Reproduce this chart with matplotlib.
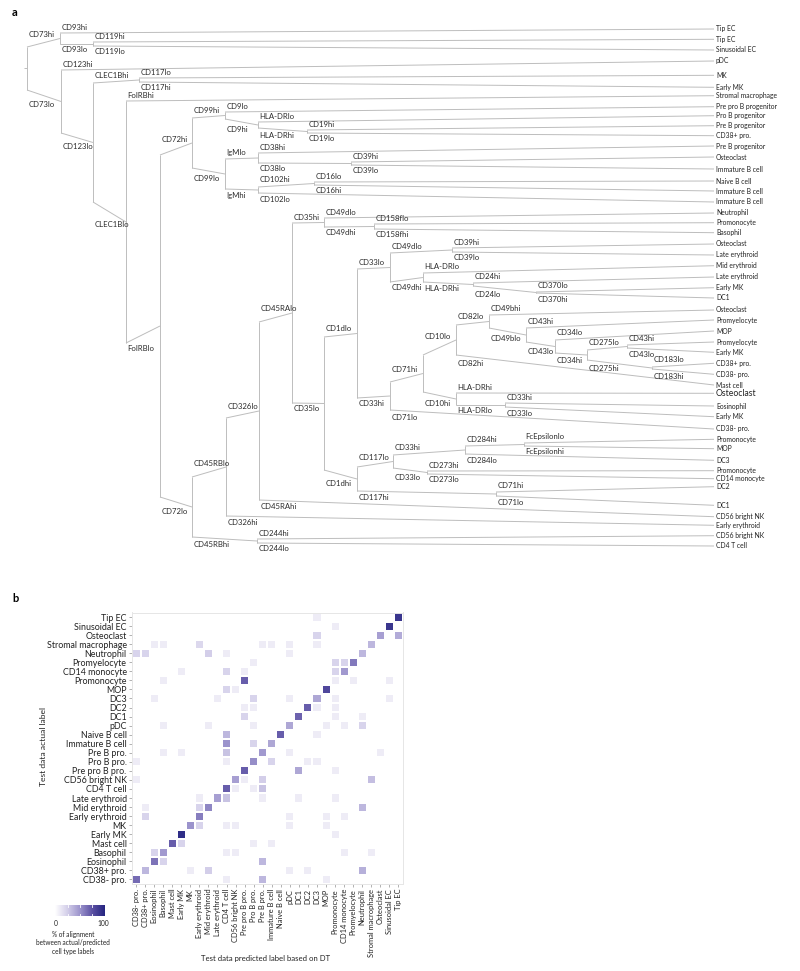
import numpy as np
import matplotlib
matplotlib.use("Agg")
import matplotlib.pyplot as plt
from matplotlib.colors import LinearSegmentedColormap

plt.rcParams['font.family'] = ['Lato', 'DejaVu Sans']

W, H = 800, 971

# ---------------- panel a : decision tree ----------------
leaf_names = ['Tip EC', 'Tip EC', 'Sinusoidal EC', 'pDC', 'MK', 'Early MK', 'Stromal macrophage',
              'Pre pro B progenitor', 'Pro B progenitor', 'Pre B progenitor', 'CD38+ pro.',
              'Pre B progenitor', 'Osteoclast', 'Immature B cell', 'Naive B cell', 'Immature B cell',
              'Immature B cell', 'Neutrophil', 'Promonocyte', 'Basophil', 'Osteoclast',
              'Late erythroid', 'Mid erythroid', 'Late erythroid', 'Early MK', 'DC1', 'Osteoclast',
              'Promyelocyte', 'MOP', 'Promyelocyte', 'Early MK', 'CD38+ pro.', 'CD38- pro.',
              'Mast cell', 'Osteoclast', 'Eosinophil', 'Early MK', 'CD38- pro.', 'Promonocyte',
              'MOP', 'DC3', 'Promonocyte', 'CD14 monocyte', 'DC2', 'DC1', 'CD56 bright NK',
              'Early erythroid', 'CD56 bright NK', 'CD4 T cell']
leaf_y = [29, 39.3, 50, 61, 75.3, 87.3, 95.7, 106.7, 115.7, 125.7, 135.7, 146, 157, 169, 181,
          191, 202, 213, 222.7, 232.7, 244, 255, 265.7, 277, 287.7, 298, 310, 320, 331, 342,
          352.3, 363.3, 374.3, 385, 393.3, 406, 416.7, 429, 439.3, 448.7, 460.3, 470.7, 478.7,
          486.7, 505.3, 516.7, 525.3, 535.7, 546]
big_leaf = [35]

node_key = ['CD73', 'CD93', 'CD119', 'CD123', 'CLEC1B', 'CD117a', 'FolRB', 'CD72', 'CD99', 'CD9',
            'HLA-DRa', 'CD19', 'IgM', 'CD38', 'CD39a', 'CD102', 'CD16', 'CD45RB', 'CD326', 'CD45RA',
            'CD244', 'CD35', 'CD49da', 'CD158f', 'CD1d', 'CD33a', 'CD49db', 'CD39b', 'HLA-DRb',
            'CD24', 'CD370', 'CD71a', 'CD10', 'CD82', 'CD49b', 'CD43a', 'CD34', 'CD275', 'CD43b',
            'CD183', 'HLA-DRc', 'CD33b', 'CD117b', 'CD33c', 'CD284', 'FcEpsilon', 'CD273', 'CD71b']
node_marker = ['CD73', 'CD93', 'CD119', 'CD123', 'CLEC1B', 'CD117', 'FolRB', 'CD72', 'CD99', 'CD9',
               'HLA-DR', 'CD19', 'IgM', 'CD38', 'CD39', 'CD102', 'CD16', 'CD45RB', 'CD326', 'CD45RA',
               'CD244', 'CD35', 'CD49d', 'CD158f', 'CD1d', 'CD33', 'CD49d', 'CD39', 'HLA-DR',
               'CD24', 'CD370', 'CD71', 'CD10', 'CD82', 'CD49b', 'CD43', 'CD34', 'CD275', 'CD43',
               'CD183', 'HLA-DR', 'CD33', 'CD117', 'CD33', 'CD284', 'FcEpsilon', 'CD273', 'CD71']
node_x = [27, 60, 93, 61, 93, 139, 126, 160, 192, 225, 258, 307, 225, 258, 351, 258, 314, 192,
          226, 259, 257, 292, 324, 374, 324, 357, 390, 452, 423, 473, 536, 390, 423, 456, 489,
          526, 555, 587, 627, 652, 456, 505, 357, 393, 465, 524, 427, 496]
# vertical extent of each split bar (top, bottom)
node_y0 = [47, 33, 42, 70, 83, 78, 101, 155, 118, 112, 122, 130, 159, 153, 162, 187, 182, 477,
           418, 322, 539, 223, 218, 224, 337, 269, 253, 248, 273, 283, 292, 382, 355, 325, 315,
           328, 340, 350, 345, 367, 393, 403, 467, 455, 446, 443, 471, 492]
node_y1 = [90, 44, 46, 133, 202, 82, 343, 497, 168, 119, 128, 133, 189, 163, 165, 193, 185, 537,
           516, 500, 543, 403, 227, 229, 470, 398, 282, 252, 282, 286, 293, 410, 392, 355, 328,
           342, 353, 360, 348, 369, 405, 407, 491, 468, 454, 446, 474, 496]
node_top = ['CD93', 'L1', 'L2', 'L4', 'CD117a', 'L5', 'L7', 'CD99', 'CD9', 'L8', 'L9', 'L10',
            'CD38', 'L12', 'L13', 'CD16', 'L15', 'CD326', 'CD45RA', 'CD35', 'L48', 'CD49da', 'L18',
            'L19', 'CD33a', 'CD49db', 'CD39b', 'L21', 'L23', 'L24', 'L25', 'CD10', 'CD82', 'CD49b',
            'L27', 'L28', 'L29', 'CD43b', 'L30', 'L32', 'L35', 'L36', 'CD33c', 'CD284',
            'FcEpsilon', 'L39', 'L42', 'L44']
node_bottom = ['CD123', 'CD119', 'L3', 'CLEC1B', 'FolRB', 'L6', 'CD72', 'CD45RB', 'IgM', 'HLA-DRa',
               'CD19', 'L11', 'CD102', 'CD39a', 'L14', 'L17', 'L16', 'CD244', 'L47', 'L46', 'L49',
               'CD1d', 'CD158f', 'L20', 'CD117b', 'CD71a', 'HLA-DRb', 'L22', 'CD24', 'CD370',
               'L26', 'L38', 'HLA-DRc', 'L34', 'CD43a', 'CD34', 'CD275', 'CD183', 'L31', 'L33',
               'CD33b', 'L37', 'CD71b', 'CD273', 'L41', 'L40', 'L43', 'L45']
node_top_level = ['hi', 'hi', 'hi', 'hi', 'hi', 'lo', 'hi', 'hi', 'hi', 'lo', 'lo', 'hi', 'lo',
                  'hi', 'hi', 'hi', 'lo', 'lo', 'lo', 'lo', 'hi', 'hi', 'lo', 'lo', 'lo', 'lo',
                  'lo', 'hi', 'lo', 'hi', 'lo', 'hi', 'lo', 'lo', 'hi', 'hi', 'lo', 'lo', 'hi',
                  'lo', 'hi', 'hi', 'lo', 'hi', 'hi', 'lo', 'hi', 'hi']

# ---------------- panel b : confusion heatmap ----------------
col_labels = ['CD38- pro.', 'CD38+ pro.', 'Eosinophil', 'Basophil', 'Mast cell', 'Early MK', 'MK',
              'Early erythroid', 'Mid erythroid', 'Late erythroid', 'CD4 T cell', 'CD56 bright NK',
              'Pre pro B pro.', 'Pro B pro.', 'Pre B pro.', 'Immature B cell', 'Naive B cell', 'pDC',
              'DC1', 'DC2', 'DC3', 'MOP', 'Promonocyte', 'CD14 monocyte', 'Promyelocyte',
              'Neutrophil', 'Stromal macrophage', 'Osteoclast', 'Sinusoidal EC', 'Tip EC']
row_labels = col_labels[::-1]

# % alignment, per actual label (row): {predicted column index: value}
align = {
    'Tip EC': {20: 10, 29: 90},
    'Sinusoidal EC': {22: 10, 28: 90},
    'Osteoclast': {20: 22, 27: 45, 29: 40},
    'Stromal macrophage': {2: 10, 3: 10, 7: 20, 14: 10, 15: 10, 17: 10, 20: 10, 26: 35},
    'Neutrophil': {0: 22, 1: 22, 8: 25, 10: 10, 17: 10, 25: 35},
    'Promyelocyte': {13: 10, 22: 22, 23: 22, 24: 60},
    'CD14 monocyte': {5: 10, 10: 22, 12: 10, 22: 22, 23: 48},
    'Promonocyte': {3: 10, 12: 70, 22: 10, 24: 10, 28: 10},
    'MOP': {10: 22, 11: 10, 21: 80},
    'DC3': {2: 10, 9: 10, 13: 22, 17: 10, 20: 42, 22: 10, 28: 10},
    'DC2': {12: 10, 13: 10, 19: 70, 20: 10, 22: 10},
    'DC1': {12: 22, 18: 68, 22: 10, 25: 10},
    'pDC': {3: 10, 8: 10, 13: 10, 17: 42, 21: 10, 23: 10, 25: 22},
    'Naive B cell': {10: 35, 16: 70, 20: 10},
    'Immature B cell': {10: 50, 13: 22, 15: 42},
    'Pre B pro.': {3: 10, 5: 10, 10: 30, 14: 48, 17: 10, 27: 10},
    'Pro B pro.': {0: 10, 10: 10, 13: 52, 15: 22, 19: 10, 20: 10},
    'Pre pro B pro.': {12: 70, 18: 42, 22: 10},
    'CD56 bright NK': {0: 10, 11: 45, 12: 10, 14: 25, 26: 32},
    'CD4 T cell': {10: 70, 11: 10, 13: 10, 14: 30},
    'Late erythroid': {7: 10, 9: 45, 10: 30, 14: 10, 18: 10, 22: 10},
    'Mid erythroid': {1: 10, 7: 22, 8: 55, 25: 35},
    'Early erythroid': {1: 22, 7: 58, 17: 10, 21: 10, 23: 10},
    'MK': {6: 50, 7: 22, 10: 10, 11: 10, 17: 10, 21: 10},
    'Early MK': {5: 95, 22: 10},
    'Mast cell': {4: 70, 5: 22, 13: 10, 15: 10},
    'Basophil': {2: 22, 3: 48, 10: 10, 11: 10, 23: 10, 26: 10},
    'Eosinophil': {2: 62, 3: 22, 14: 35},
    'CD38+ pro.': {1: 35, 6: 10, 8: 25, 17: 10, 19: 10, 25: 38},
    'CD38- pro.': {0: 65, 10: 10, 14: 35, 21: 10},
}

cmap = LinearSegmentedColormap.from_list(
    'align', [(0, '#ffffff'), (0.25, '#d3cee9'), (0.5, '#9c94cc'), (0.75, '#5b50a3'), (1, '#252580')])

fig = plt.figure(figsize=(W / 100, H / 100), dpi=100)
ax = fig.add_axes([0, 0, 1, 1])
ax.set_xlim(0, W)
ax.set_ylim(H, 0)
ax.axis('off')

line_kw = dict(color='#bdbdbd', lw=0.7, solid_capstyle='butt')
leaf_end = 714


def child_xy(key):
    if key.startswith('L'):
        return leaf_end, leaf_y[int(key[1:]) - 1]
    i = node_key.index(key)
    return node_x[i], (node_y0[i] + node_y1[i]) / 2


# little stub in front of the root
ax.plot([node_x[0] - 3, node_x[0]], [(node_y0[0] + node_y1[0]) / 2] * 2, **line_kw)

for i, key in enumerate(node_key):
    px, y0, y1 = node_x[i], node_y0[i], node_y1[i]
    ax.plot([px, px], [y0, y1], **line_kw)
    lv_top = node_top_level[i]
    lv_bot = 'lo' if lv_top == 'hi' else 'hi'
    for ch, ys, lv, up in [(node_top[i], y0, lv_top, True), (node_bottom[i], y1, lv_bot, False)]:
        cx, cy = child_xy(ch)
        ax.plot([px, cx], [ys, cy], **line_kw)
        frac = min(1.0, 28 / (cx - px))
        y_at = ys + (cy - ys) * frac
        if up:
            ax.text(px + 1.5, min(ys, y_at) - 2.0, node_marker[i] + lv, fontsize=5.6,
                    color='#2a2a2a', ha='left', va='bottom')
        else:
            ax.text(px + 1.5, max(ys, y_at) + 2.0, node_marker[i] + lv, fontsize=5.6,
                    color='#2a2a2a', ha='left', va='top')

for k, (name, y) in enumerate(zip(leaf_names, leaf_y), start=1):
    ax.text(leaf_end + 2, y, name, fontsize=6.2 if k in big_leaf else 4.9,
            color='#222222', ha='left', va='center')

ax.text(12, 13, 'a', fontsize=8, fontweight='bold', ha='left', va='center')
ax.text(12, 598, 'b', fontsize=8, fontweight='bold', ha='left', va='center')

# heatmap
n = len(col_labels)
M = np.zeros((n, n))
for r, lab in enumerate(row_labels):
    for c, v in align[lab].items():
        M[r, c] = v

hx0, hy1, hs = 131.5, 884, 271.5
axh = fig.add_axes([hx0 / W, 1 - hy1 / H, hs / W, hs / H])
axh.pcolormesh(np.arange(n + 1) - 0.5, np.arange(n + 1) - 0.5, M, cmap=cmap, vmin=0, vmax=100,
               edgecolors='white', linewidth=0.3)
axh.set_xlim(-0.5, n - 0.5)
axh.set_ylim(n - 0.5, -0.5)
axh.set_xticks(range(n))
axh.set_xticklabels(col_labels, rotation=90, fontsize=5.4, color='#222222')
axh.set_yticks(range(n))
axh.set_yticklabels(row_labels, fontsize=6.4, color='#222222')
axh.tick_params(length=2, width=0.4, color='#777777', pad=1.5)
for sp in axh.spines.values():
    sp.set_color('#e6e6e6')
    sp.set_linewidth(0.7)

ax.text(43, 747, 'Test data actual label', fontsize=6.1, rotation=90, ha='center', va='center',
        color='#222222')
ax.text(266, 959, 'Test data predicted label based on DT', fontsize=5.6, ha='center', va='center',
        color='#222222')

# colour legend
axc = fig.add_axes([54 / W, 1 - 916 / H, 52 / W, 11 / H])
grad = np.linspace(0, 100, 256).reshape(1, -1)
axc.imshow(grad, cmap=cmap, vmin=0, vmax=100, aspect='auto', extent=[0, 100, 0, 1])
for t in [25, 50, 75]:
    axc.plot([t, t], [0, 0.22], color='white', lw=0.6)
    axc.plot([t, t], [0.78, 1], color='white', lw=0.6)
axc.set_xlim(-3, 103)
axc.set_ylim(0, 1)
axc.axis('off')
ax.text(56, 923, '0', fontsize=4.8, ha='center', va='center', color='#222222')
ax.text(103, 923, '100', fontsize=4.8, ha='center', va='center', color='#222222')
ax.text(73, 943, '% of alignment\nbetween actual/predicted\ncell type labels', fontsize=4.7,
        ha='center', va='center', linespacing=1.3, color='#222222')

fig.savefig('out.png', dpi=100)
